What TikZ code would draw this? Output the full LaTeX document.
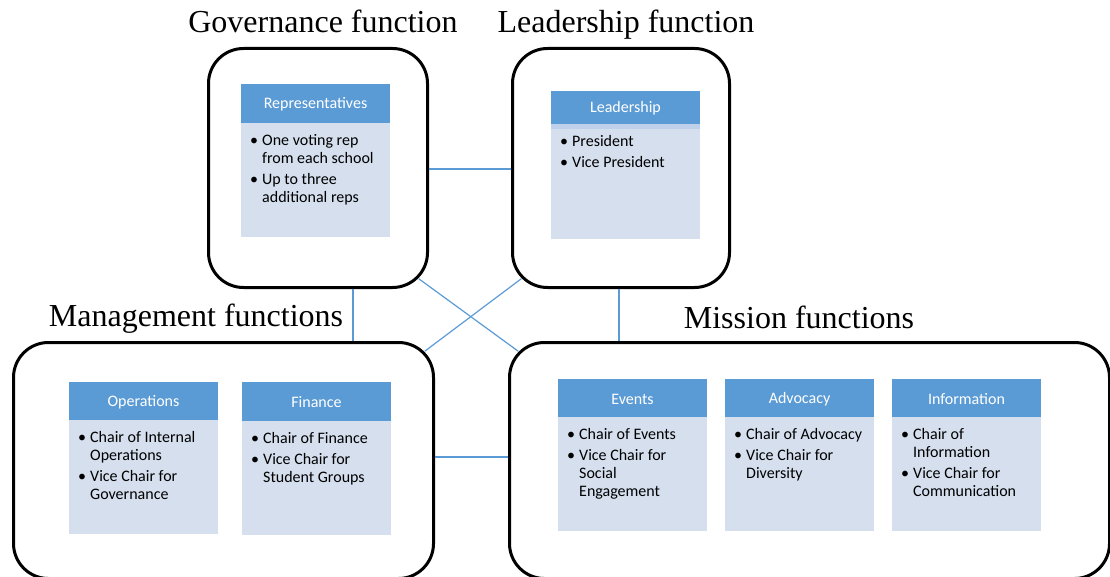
\documentclass[tikz,border=0pt]{standalone}
\usepackage{fontspec}
\setmainfont{Carlito}
\newfontfamily\titlefont{Liberation Serif}
\usetikzlibrary{calc}
\definecolor{hdr}{RGB}{91,155,213}
\definecolor{bodyc}{RGB}{213,223,238}
\definecolor{bandc}{RGB}{190,208,234}
\definecolor{conn}{RGB}{91,155,213}
\newcommand\bl{\makebox[12pt][l]{\textbullet}}
\tikzset{
  bigbox/.style={draw=black, line width=3pt, rounded corners=35pt, inner sep=0pt, anchor=north west},
  ttl/.style={font=\titlefont\fontsize{32}{36}\selectfont, inner sep=0pt, anchor=base},
  hdrbox/.style={fill=hdr, draw=none, minimum width=149pt, inner sep=0pt, outer sep=0pt, anchor=north west},
  bodybox/.style={fill=bodyc, draw=none, minimum width=149pt, inner sep=0pt, outer sep=0pt, anchor=north west},
  hdrtext/.style={text=white, font=\fontsize{16}{19}\selectfont, inner sep=0pt},
  bodytext/.style={font=\fontsize{16}{17.8}\selectfont, inner sep=0pt, anchor=north west, align=left},
  conline/.style={draw=conn, line width=1.2pt},
}
% name, left, top, header bottom, bottom, title, body
\newcommand\mkcard[7]{%
  \node[hdrbox, minimum height={#4-#3}] (#1-h) at (#2,#3) {};
  \node[hdrtext] (#1-ht) at ([yshift=-1pt]#1-h.center) {#6};
  \node[bodybox, minimum height={#5-#4}] (#1-b) at (#2,#4) {};
  \node[bodytext] (#1-t) at ($(#2,#4)+(9,10)$) {#7};
}
\begin{document}
\begin{tikzpicture}[x=1pt,y=-1pt]
\useasboundingbox (0,0) rectangle (1110,577);
\clip (0,0) rectangle (1110,577);

% titles
\node[ttl] (t-gov) at (323,33) {Governance function};
\node[ttl] (t-lead) at (626,33) {Leadership function};
\node[ttl] (t-mgmt) at (196,326) {Management functions};
\node[ttl] (t-miss) at (799,328) {Mission functions};

% big boxes
\node[bigbox, minimum width=219pt, minimum height=239pt] (gov) at (207,47) {};
\node[bigbox, minimum width=217pt, minimum height=239pt] (lead) at (511,47) {};
\node[bigbox, minimum width=420pt, minimum height=236pt] (mgmt) at (12,341) {};
\node[bigbox, minimum width=600pt, minimum height=236pt] (miss) at (508,341) {};

% connectors
\coordinate (h1) at (0,169);
\coordinate (h2) at (0,457);
\coordinate (v1) at (353,0);
\coordinate (v2) at (619,0);
\draw[conline] (gov.east |- h1) -- (lead.west |- h1);
\draw[conline] (mgmt.east |- h2) -- (miss.west |- h2);
\draw[conline] (gov.south -| v1) -- (mgmt.north -| v1);
\draw[conline] (lead.south -| v2) -- (miss.north -| v2);
\draw[conline] ($(gov.south east)+(-10.25,-10.25)$) -- ($(miss.north west)+(10.25,10.25)$);
\draw[conline] ($(lead.south west)+(10.25,-10.25)$) -- ($(mgmt.north east)+(-10.25,10.25)$);

% cards
\mkcard{rep}{241}{84}{123}{237}{Representatives}{%
  \begin{tabular}{@{}l@{}l@{}}\bl & One voting rep\\ & from each school\\[3pt] \bl & Up to three\\ & additional reps\end{tabular}}
\mkcard{ldr}{551}{91}{124}{239}{Leadership}{%
  \begin{tabular}{@{}l@{}l@{}}\bl & President\\[3pt] \bl & Vice President\end{tabular}}
\node[fill=bandc, draw=none, inner sep=0pt, outer sep=0pt, minimum width=149pt, minimum height=5pt, anchor=north west] (ldr-s) at (551,124) {};
\mkcard{ops}{69}{382}{420}{534}{Operations}{%
  \begin{tabular}{@{}l@{}l@{}}\bl & Chair of Internal\\ & Operations\\[3pt] \bl & Vice Chair for\\ & Governance\end{tabular}}
\mkcard{fin}{242}{382}{421}{535}{Finance}{%
  \begin{tabular}{@{}l@{}l@{}}\bl & Chair of Finance\\[3pt] \bl & Vice Chair for\\ & Student Groups\end{tabular}}
\mkcard{evt}{558}{379}{417}{531}{Events}{%
  \begin{tabular}{@{}l@{}l@{}}\bl & Chair of Events\\[3pt] \bl & Vice Chair for\\ & Social\\ & Engagement\end{tabular}}
\mkcard{adv}{725}{379}{417}{531}{Advocacy}{%
  \begin{tabular}{@{}l@{}l@{}}\bl & Chair of Advocacy\\[3pt] \bl & Vice Chair for\\ & Diversity\end{tabular}}
\mkcard{inf}{892}{379}{417}{531}{Information}{%
  \begin{tabular}{@{}l@{}l@{}}\bl & Chair of\\ & Information\\[3pt] \bl & Vice Chair for\\ & Communication\end{tabular}}
\end{tikzpicture}
\end{document}
